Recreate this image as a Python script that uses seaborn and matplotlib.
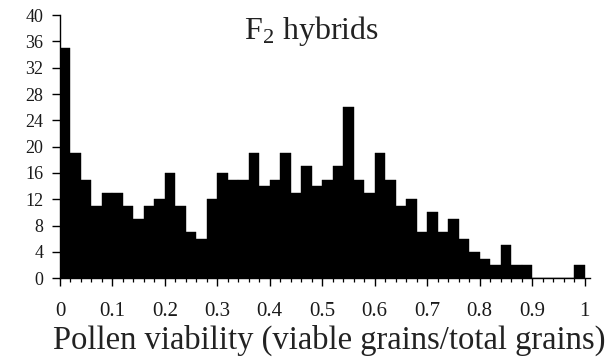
import numpy as np
import pandas as pd
import seaborn as sns
import matplotlib.pyplot as plt
from matplotlib.ticker import MultipleLocator

# Histogram bins: 50 classes of width 0.02 covering 0..1
bin_width = 0.02
bin_edges = np.round(np.linspace(0.0, 1.0, 51), 2)

# Number of F2 plants falling in each pollen-viability class
plant_counts = [35, 19, 15, 11, 13, 13, 11, 9, 11, 12,
                16, 11, 7, 6, 12, 16, 15, 15, 19, 14,
                15, 19, 13, 17, 14, 15, 17, 26, 15, 13,
                19, 15, 11, 12, 7, 10, 7, 9, 6, 4,
                3, 2, 5, 2, 2, 0, 0, 0, 0, 2]

x_ticks = [0, 0.1, 0.2, 0.3, 0.4, 0.5, 0.6, 0.7, 0.8, 0.9, 1.0]
x_tick_labels = ["0", "0.1", "0.2", "0.3", "0.4", "0.5", "0.6", "0.7", "0.8", "0.9", "1"]
y_ticks = [0, 4, 8, 12, 16, 20, 24, 28, 32, 36, 40]

df = pd.DataFrame({
    "viability": (bin_edges[:-1] + bin_edges[1:]) / 2,
    "plants": plant_counts,
})

sns.set_theme(style="ticks")
plt.rcParams["font.family"] = ["Liberation Serif", "DejaVu Serif"]
plt.rcParams["mathtext.fontset"] = "custom"
plt.rcParams["mathtext.rm"] = "Liberation Serif"
plt.rcParams["mathtext.it"] = "Liberation Serif:italic"

fig = plt.figure(figsize=(6.16, 3.6), dpi=100)
ax = fig.add_axes([0.0974, 0.2269, 0.86, 0.7314])

sns.histplot(data=df, x="viability", weights="plants",
             binwidth=bin_width, binrange=(0.0, 1.0),
             color="black", edgecolor="black", linewidth=0.3, alpha=1.0, ax=ax)

ax.set_xlim(0, 1.01)
ax.set_ylim(0, 40)
ax.set_xticks(x_ticks)
ax.set_xticklabels(x_tick_labels, fontsize=15, color="#1a1a1a")
ax.xaxis.set_minor_locator(MultipleLocator(0.02))
ax.set_yticks(y_ticks)
ax.set_yticklabels([str(v) for v in y_ticks], fontsize=13, color="#1a1a1a")

ax.tick_params(axis="x", which="major", direction="out", length=6, width=1.0,
               pad=11, colors="black", labelcolor="#1a1a1a")
ax.tick_params(axis="x", which="minor", direction="out", length=3, width=0.9,
               colors="black")
ax.tick_params(axis="y", which="major", direction="out", length=6, width=1.0,
               pad=6, colors="black", labelcolor="#1a1a1a")

for side in ("top", "right"):
    ax.spines[side].set_visible(False)
for side in ("left", "bottom"):
    ax.spines[side].set_linewidth(1.0)
    ax.spines[side].set_color("black")

ax.set_ylabel("")
ax.set_xlabel("Pollen viability (viable grains/total grains)", fontsize=23.5,
              color="#222222")
ax.xaxis.set_label_coords(0.508, -0.175)

fig.text(0.505, 0.915, r"F$_\mathrm{2}$ hybrids", fontsize=23,
         ha="center", va="center", color="#222222")

fig.savefig("out.png", dpi=100, facecolor="white")
